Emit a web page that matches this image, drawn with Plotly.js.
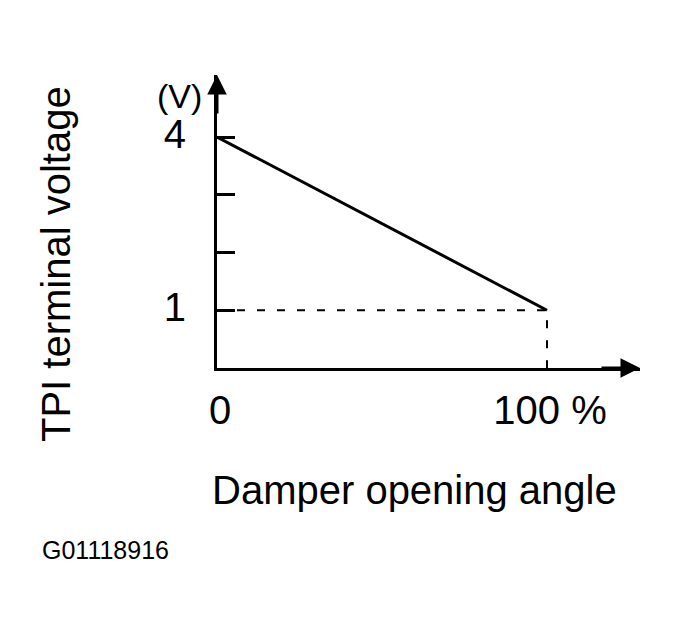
<!DOCTYPE html>
<html>
<head>
<meta charset="utf-8">
<script src="https://cdn.plot.ly/plotly-3.0.1.min.js"></script>
<style>html,body{margin:0;padding:0;background:#fff;}#chart{width:679px;height:634px;}</style>
</head>
<body>
<div id="chart"></div>
<script>
// Data
const angle = [0, 100];            // Damper opening angle (%)
const voltage = [4, 1];            // TPI terminal voltage (V)
const refX = [0, 100, 100];        // dashed guide
const refY = [1, 1, 0];
const yTickVals = [1, 2, 3, 4];
const yTickText = ['1', '', '', '4'];
const xTickVals = [0, 100];
const xTickText = ['0', '100 %'];

const W = 679, H = 634;
const L = 217, R = 39, T = 75, B = 266;
const pw = W - L - R, ph = H - T - B;
const px = v => (v - L) / pw;
const py = v => (H - B - v) / ph;
const FONT = 'Liberation Sans, Arial, sans-serif';

const traces = [
  {x: refX, y: refY, mode: 'lines', line: {color: '#000', width: 2, dash: '8px,12px'}, hoverinfo: 'skip'},
  {x: angle, y: voltage, mode: 'lines', line: {color: '#000', width: 3}, hoverinfo: 'skip'}
];

const ann = (x, y, text, size, extra) => Object.assign({
  xref: 'paper', yref: 'paper', x: px(x), y: py(y), text: text, showarrow: false,
  xanchor: 'center', yanchor: 'middle', font: {size: size, family: FONT, color: '#000'}
}, extra || {});

const layout = {
  width: W, height: H,
  margin: {l: L, r: R, t: T, b: B},
  paper_bgcolor: '#fff', plot_bgcolor: '#fff',
  showlegend: false,
  font: {family: FONT, color: '#000'},
  xaxis: {
    range: [0, pw / 3.3], showgrid: false, zeroline: false,
    showline: true, linecolor: '#000', linewidth: 3,
    tickvals: xTickVals, ticktext: xTickText, ticks: '',
    ticklabelstandoff: 5, ticklabelshift: 3,
    tickfont: {size: 40, family: FONT, color: '#000'}
  },
  yaxis: {
    range: [0, ph / 57.75], showgrid: false, zeroline: false,
    showline: true, linecolor: '#000', linewidth: 3,
    tickvals: yTickVals, ticktext: yTickText,
    ticks: 'inside', ticklen: 18, tickwidth: 3, tickcolor: '#000',
    ticklabelstandoff: 20, ticklabelshift: -3,
    tickfont: {size: 40, family: FONT, color: '#000'}
  },
  annotations: [
    {xref: 'paper', yref: 'paper', x: 0, y: 1, ax: 0, ay: 40, text: '', showarrow: true,
     arrowhead: 2, arrowsize: 1.3, arrowwidth: 3, arrowcolor: '#000'},
    {xref: 'paper', yref: 'paper', x: 1, y: 0, ax: -40, ay: 0, text: '', showarrow: true,
     arrowhead: 2, arrowsize: 1.3, arrowwidth: 3, arrowcolor: '#000'},
    ann(179, 96, '(V)', 34),
    ann(414, 490, 'Damper opening angle', 40),
    ann(56, 264, 'TPI terminal voltage', 40, {textangle: -90}),
    ann(40, 550, 'G01118916', 25, {xanchor: 'left'})
  ]
};

Plotly.newPlot('chart', traces, layout, {displayModeBar: false, staticPlot: true});
</script>
</body>
</html>
